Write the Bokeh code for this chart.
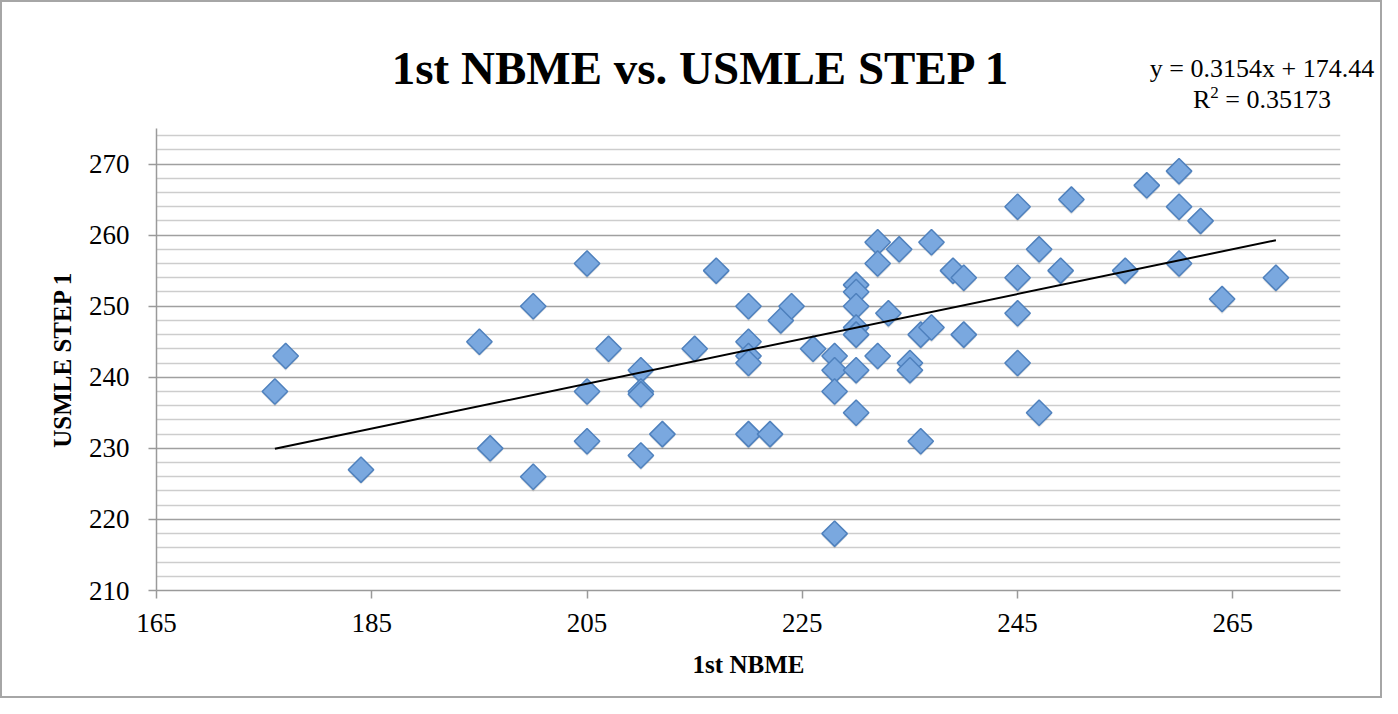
import numpy as np
from bokeh.plotting import figure
from bokeh.layouts import column
from bokeh.models import Range1d, FixedTicker, ColumnDataSource, Div
from bokeh.transform import dodge
from bokeh.embed import file_html
from bokeh.resources import INLINE

# ---- data ----
nbme_1st = [176, 177, 184, 195, 196, 200, 200, 205, 205, 205, 207, 210, 210, 210, 210,
            212, 215, 217, 220, 220, 220, 220, 220, 222, 223, 224, 226, 228, 228, 228,
            228, 230, 230, 230, 230, 230, 230, 230, 232, 232, 232, 233, 234, 235, 235,
            236, 236, 237, 237, 239, 240, 240, 245, 245, 245, 245, 247, 247, 249, 250,
            255, 257, 260, 260, 260, 262, 264, 269]
usmle_step1 = [238, 243, 227, 245, 230, 250, 226, 256, 238, 231, 244, 241, 238, 237.6, 229,
               232, 244, 255, 250, 245, 243, 242, 232, 232, 248, 250, 244, 243, 241, 238,
               218, 253, 252, 250, 247, 246, 241, 235, 259, 256, 243, 249, 258, 242, 241,
               246, 231, 247, 259, 255, 254, 246, 264, 254, 249, 242, 258, 235, 255, 265,
               255, 267, 269, 264, 256, 262, 251, 254]
x_ticks = [165, 185, 205, 225, 245, 265]
y_ticks = [210, 220, 230, 240, 250, 260, 270]
y_minor_ticks = [212, 214, 216, 218, 222, 224, 226, 228, 232, 234, 236, 238, 242, 244, 246, 248,
                 252, 254, 256, 258, 262, 264, 266, 268, 272, 274]
trend_slope = 0.3154
trend_intercept = 174.44
r_squared = 0.35173
title_text = "1st NBME vs. USMLE STEP 1"
x_label = "1st NBME"
y_label = "USMLE STEP 1"

SERIF = "Liberation Serif"
W = 1378
TOP_H = 110
MAIN_H = 584

# ---------- header (title + trendline equation) ----------
def span(text, left, top, width, size, bold=False):
    weight = "bold" if bold else "normal"
    return (f'<div style="position:absolute;left:{left}px;top:{top}px;width:{width}px;'
            f'text-align:center;white-space:nowrap;font-family:\'{SERIF}\',serif;'
            f'font-size:{size}px;line-height:{size}px;font-weight:{weight};color:#000;">'
            f'{text}</div>')

header_html = (
    f'<div style="position:relative;width:{W}px;height:{TOP_H}px;background:#fff;">'
    + span(title_text, 298, 43, 800, 47, bold=True)
    + span(f"y = {trend_slope}x + {trend_intercept}", 1135, 54, 250, 26)
    + span(f"R<sup style=\"font-size:17px;line-height:0;\">2</sup> = {r_squared}", 1135, 85, 250, 26)
    + '</div>'
)
head = Div(text=header_html, width=W, height=TOP_H, margin=0)

# ---------- main scatter ----------
src = ColumnDataSource(dict(x=nbme_1st, y=usmle_step1))

p = figure(width=W, height=MAIN_H,
           x_range=Range1d(165, 275), y_range=Range1d(210, 275),
           output_backend="svg", toolbar_location=None,
           min_border_left=154, min_border_right=40,
           min_border_top=16, min_border_bottom=106,
           background_fill_color="white", border_fill_color="white")
p.outline_line_color = None

p.xgrid.visible = False
p.ygrid.ticker = FixedTicker(ticks=y_ticks, minor_ticks=y_minor_ticks)
p.ygrid.grid_line_color = "#a0a0a0"
p.ygrid.grid_line_width = 1.5
p.ygrid.minor_grid_line_color = "#cdcdcd"
p.ygrid.minor_grid_line_width = 1.5

p.xaxis.ticker = FixedTicker(ticks=x_ticks)
p.yaxis.ticker = FixedTicker(ticks=y_ticks)
for ax in (p.xaxis[0], p.yaxis[0]):
    ax.axis_line_color = "#9a9a9a"
    ax.axis_line_width = 1.5
    ax.major_tick_line_color = "#9a9a9a"
    ax.major_tick_line_width = 1.5
    ax.major_tick_out = 8
    ax.major_tick_in = 0
    ax.minor_tick_line_color = None
    ax.major_label_text_font = SERIF
    ax.major_label_text_font_size = "27px"
    ax.major_label_text_color = "black"
    ax.axis_label_text_font = SERIF
    ax.axis_label_text_font_style = "bold"
    ax.axis_label_text_font_size = "25px"
    ax.axis_label_text_color = "black"
p.xaxis.axis_label = x_label
p.yaxis.axis_label = y_label
p.xaxis.major_label_standoff = 15
p.yaxis.major_label_standoff = 19
p.xaxis.axis_label_standoff = 16
p.yaxis.axis_label_standoff = 10

# markers (with soft shadow)
p.scatter(x="x", y=dodge("y", -0.3, range=p.y_range), source=src, marker="square",
          size=18, angle=np.pi / 4, fill_color="#000000", fill_alpha=0.12, line_color=None)
p.scatter(x="x", y="y", source=src, marker="square", size=18, angle=np.pi / 4,
          fill_color="#7aa8df", line_color="#4f81bd", line_width=1.5)

# linear trendline
tx = [min(nbme_1st), max(nbme_1st)]
ty = [trend_slope * v + trend_intercept for v in tx]
p.line(tx, ty, line_color="black", line_width=2)

layout = column(head, p, spacing=0, styles={"border": "2px solid #a6a6a6", "background": "#fff"})
open("out.html", "w").write(file_html(layout, INLINE))
